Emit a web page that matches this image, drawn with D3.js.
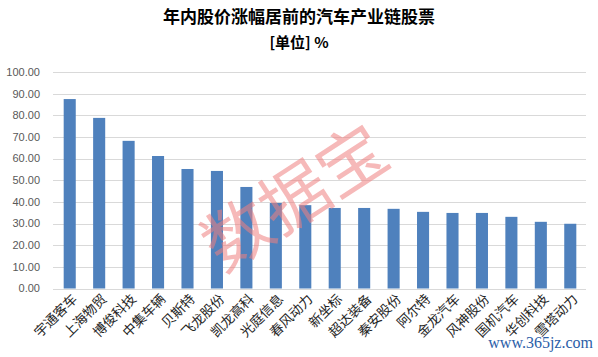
<!DOCTYPE html>
<html><head><meta charset="utf-8">
<script src="https://cdn.jsdelivr.net/npm/d3@7"></script>
<style>body{margin:0;background:#fff;} svg{display:block;}</style>
</head><body>
<script>
const title = "年内股价涨幅居前的汽车产业链股票";
const subtitle = "[单位] %";
const categories = ["宇通客车","上海物贸","博俊科技","中集车辆","贝斯特","飞龙股份","凯龙高科","光庭信息","春风动力","新坐标","超达装备","秦安股份","阿尔特","金龙汽车","风神股份","国机汽车","华创科技","雪塔动力"];
const values = [87.5,78.8,68.2,61.2,55.2,54.3,46.9,39.5,38.5,37.2,37.2,36.8,35.4,34.9,34.9,33.1,30.8,29.9];
const yTicks = [0,10,20,30,40,50,60,70,80,90,100];

const W=598,H=357;
const svg=d3.select("body").append("svg").attr("width",W).attr("height",H);
svg.append("rect").attr("width",W).attr("height",H).attr("fill","#fff");

const x=d3.scaleBand().domain(categories).range([55,585]).paddingInner(0.59).paddingOuter(0.295);
const y=d3.scaleLinear().domain([0,100]).range([288.5,72]);

// grid
svg.append("g").selectAll("line").data(yTicks).join("line")
  .attr("x1",53).attr("x2",586).attr("y1",d=>Math.round(y(d))+0.5).attr("y2",d=>Math.round(y(d))+0.5)
  .attr("stroke","#d9d9d9").attr("stroke-width",1);

// y labels
svg.append("g").selectAll("text").data(yTicks).join("text")
  .attr("x",40).attr("y",d=>y(d)).attr("dy","0.35em").attr("text-anchor","end")
  .attr("font-family","'Liberation Sans', Arial, sans-serif").attr("font-size",11).attr("fill","#595959")
  .text(d=>d3.format(".2f")(d));

// bars
svg.append("g").selectAll("rect").data(values).join("rect")
  .attr("x",(d,i)=>x(categories[i])).attr("width",x.bandwidth())
  .attr("y",d=>y(d)).attr("height",d=>y(0)-y(d)).attr("fill","#4F81BD");

// x labels
svg.append("g").selectAll("text").data(categories).join("text")
  .attr("transform",d=>`translate(${x(d)+x.bandwidth()/2+5},${y(0)+8}) rotate(-45)`)
  .attr("text-anchor","end").attr("dy","0.35em")
  .attr("font-family","'Noto Sans CJK SC', sans-serif").attr("font-size",13.5).attr("fill","#262626")
  .text(d=>d);

// titles
svg.append("text").attr("x",W/2).attr("y",23).attr("text-anchor","middle")
  .attr("font-family","'Noto Sans CJK SC', sans-serif").attr("font-weight","bold").attr("font-size",17).attr("fill","#000").text(title);
svg.append("text").attr("x",W/2).attr("y",48).attr("text-anchor","middle")
  .attr("font-family","'Noto Sans CJK SC', sans-serif").attr("font-weight","bold").attr("font-size",15).attr("fill","#000").text(subtitle);

// watermarks
svg.append("text").attr("transform","translate(295,198) rotate(-33)").attr("text-anchor","middle").attr("dy","0.35em")
  .attr("font-family","'Noto Sans CJK SC', sans-serif").attr("font-size",68).attr("fill","#f08080").attr("opacity",0.55).text("数据宝");
svg.append("text").attr("x",593).attr("y",348).attr("text-anchor","end")
  .attr("font-family","'Liberation Serif', serif").attr("font-size",16).attr("fill","#2b5ea8").text("www.365jz.com");
</script>
</body></html>
